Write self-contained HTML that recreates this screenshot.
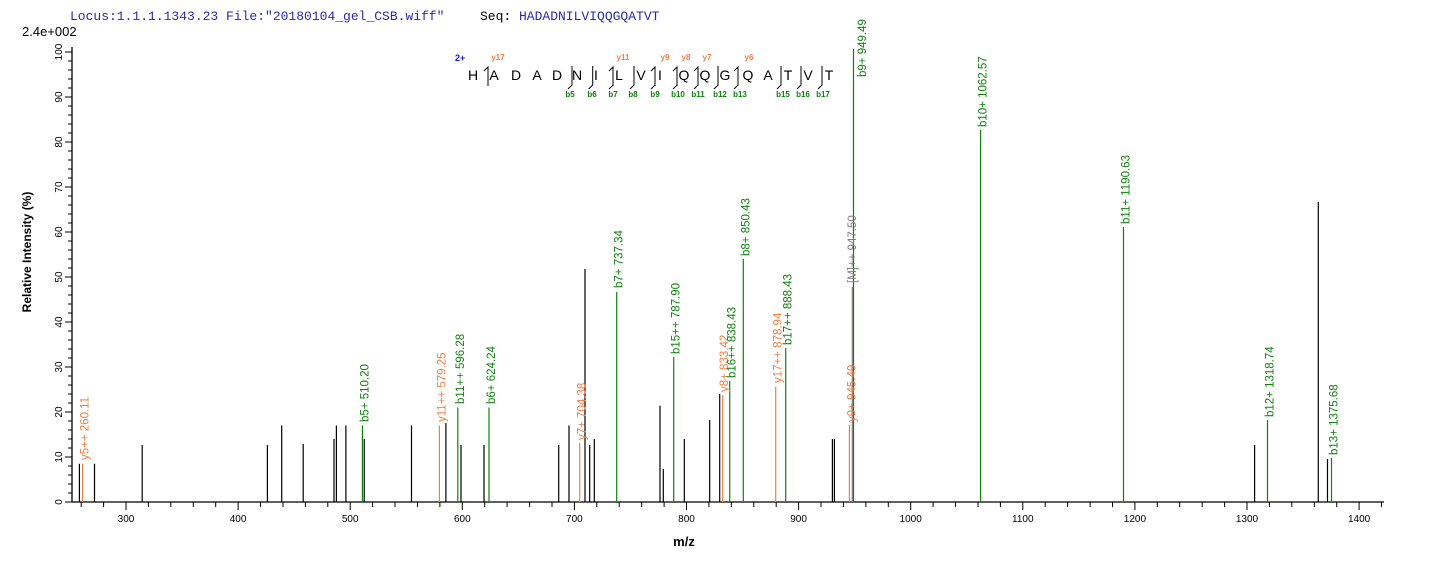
<!DOCTYPE html>
<html><head><meta charset="utf-8"><style>
html,body{margin:0;padding:0;background:#fff;}
svg{display:block;}
.lb{font-family:"Liberation Sans",Arial,sans-serif;font-size:11.5px;}
.g{fill:#11800f;} .o{fill:#f07f45;} .gr{fill:#808080;}
.tk{font-family:"Liberation Sans",Arial,sans-serif;font-size:10px;fill:#000;}
</style></head><body>
<svg width="1436" height="562" viewBox="0 0 1436 562" xmlns="http://www.w3.org/2000/svg">
<rect width="1436" height="562" fill="#fff"/>
<text x="70" y="20" font-family="Liberation Mono, monospace" font-size="13" fill="#2a2aa8">Locus:1.1.1.1343.23 File:"20180104_gel_CSB.wiff"</text>
<text x="480" y="20" font-family="Liberation Mono, monospace" font-size="13" fill="#000">Seq:</text>
<text x="519" y="20" font-family="Liberation Mono, monospace" font-size="13" fill="#2a2aa8">HADADNILVIQQGQATVT</text>
<text x="22" y="36" font-family="Liberation Sans, Arial, sans-serif" font-size="13" fill="#000">2.4e+002</text>

<g stroke="#000" stroke-width="1.3" fill="none">
<line x1="72" y1="47" x2="72" y2="502"/>
<line x1="72" y1="502" x2="1384" y2="502"/>
</g>
<g id="yt" stroke="#000" stroke-width="1">
<line x1="65" y1="502" x2="72" y2="502"/><line x1="68" y1="493" x2="72" y2="493"/><line x1="68" y1="484" x2="72" y2="484"/><line x1="68" y1="475" x2="72" y2="475"/><line x1="68" y1="466" x2="72" y2="466"/>
<line x1="65" y1="457" x2="72" y2="457"/><line x1="68" y1="448" x2="72" y2="448"/><line x1="68" y1="439" x2="72" y2="439"/><line x1="68" y1="430" x2="72" y2="430"/><line x1="68" y1="421" x2="72" y2="421"/>
<line x1="65" y1="412" x2="72" y2="412"/><line x1="68" y1="403" x2="72" y2="403"/><line x1="68" y1="394" x2="72" y2="394"/><line x1="68" y1="385" x2="72" y2="385"/><line x1="68" y1="376" x2="72" y2="376"/>
<line x1="65" y1="367" x2="72" y2="367"/><line x1="68" y1="358" x2="72" y2="358"/><line x1="68" y1="349" x2="72" y2="349"/><line x1="68" y1="340" x2="72" y2="340"/><line x1="68" y1="331" x2="72" y2="331"/>
<line x1="65" y1="322" x2="72" y2="322"/><line x1="68" y1="313" x2="72" y2="313"/><line x1="68" y1="304" x2="72" y2="304"/><line x1="68" y1="295" x2="72" y2="295"/><line x1="68" y1="286" x2="72" y2="286"/>
<line x1="65" y1="277" x2="72" y2="277"/><line x1="68" y1="268" x2="72" y2="268"/><line x1="68" y1="259" x2="72" y2="259"/><line x1="68" y1="250" x2="72" y2="250"/><line x1="68" y1="241" x2="72" y2="241"/>
<line x1="65" y1="232" x2="72" y2="232"/><line x1="68" y1="223" x2="72" y2="223"/><line x1="68" y1="214" x2="72" y2="214"/><line x1="68" y1="205" x2="72" y2="205"/><line x1="68" y1="196" x2="72" y2="196"/>
<line x1="65" y1="187" x2="72" y2="187"/><line x1="68" y1="178" x2="72" y2="178"/><line x1="68" y1="169" x2="72" y2="169"/><line x1="68" y1="160" x2="72" y2="160"/><line x1="68" y1="151" x2="72" y2="151"/>
<line x1="65" y1="142" x2="72" y2="142"/><line x1="68" y1="133" x2="72" y2="133"/><line x1="68" y1="124" x2="72" y2="124"/><line x1="68" y1="115" x2="72" y2="115"/><line x1="68" y1="106" x2="72" y2="106"/>
<line x1="65" y1="97" x2="72" y2="97"/><line x1="68" y1="88" x2="72" y2="88"/><line x1="68" y1="79" x2="72" y2="79"/><line x1="68" y1="70" x2="72" y2="70"/><line x1="68" y1="61" x2="72" y2="61"/>
<line x1="65" y1="52" x2="72" y2="52"/>
</g>
<g class="tk" text-anchor="middle">
<text transform="translate(62,502) rotate(-90)">0</text>
<text transform="translate(62,457) rotate(-90)">10</text>
<text transform="translate(62,412) rotate(-90)">20</text>
<text transform="translate(62,367) rotate(-90)">30</text>
<text transform="translate(62,322) rotate(-90)">40</text>
<text transform="translate(62,277) rotate(-90)">50</text>
<text transform="translate(62,232) rotate(-90)">60</text>
<text transform="translate(62,187) rotate(-90)">70</text>
<text transform="translate(62,142) rotate(-90)">80</text>
<text transform="translate(62,97) rotate(-90)">90</text>
<text transform="translate(62,52) rotate(-90)">100</text>
</g>
<text transform="translate(31,252) rotate(-90)" text-anchor="middle" font-family="Liberation Sans, Arial, sans-serif" font-size="12" font-weight="bold">Relative   Intensity (%)</text>

<g stroke="#000" stroke-width="1">
<line x1="81.2" y1="502" x2="81.2" y2="507"/><line x1="103.6" y1="502" x2="103.6" y2="507"/>
<line x1="126" y1="502" x2="126" y2="510"/><line x1="148.4" y1="502" x2="148.4" y2="507"/><line x1="170.8" y1="502" x2="170.8" y2="507"/><line x1="193.3" y1="502" x2="193.3" y2="507"/><line x1="215.7" y1="502" x2="215.7" y2="507"/>
<line x1="238.1" y1="502" x2="238.1" y2="510"/><line x1="260.5" y1="502" x2="260.5" y2="507"/><line x1="283" y1="502" x2="283" y2="507"/><line x1="305.4" y1="502" x2="305.4" y2="507"/><line x1="327.8" y1="502" x2="327.8" y2="507"/>
<line x1="350.2" y1="502" x2="350.2" y2="510"/><line x1="372.6" y1="502" x2="372.6" y2="507"/><line x1="395" y1="502" x2="395" y2="507"/><line x1="417.5" y1="502" x2="417.5" y2="507"/><line x1="439.9" y1="502" x2="439.9" y2="507"/>
<line x1="462.3" y1="502" x2="462.3" y2="510"/><line x1="484.7" y1="502" x2="484.7" y2="507"/><line x1="507.1" y1="502" x2="507.1" y2="507"/><line x1="529.6" y1="502" x2="529.6" y2="507"/><line x1="552" y1="502" x2="552" y2="507"/>
<line x1="574.4" y1="502" x2="574.4" y2="510"/><line x1="596.8" y1="502" x2="596.8" y2="507"/><line x1="619.2" y1="502" x2="619.2" y2="507"/><line x1="641.7" y1="502" x2="641.7" y2="507"/><line x1="664.1" y1="502" x2="664.1" y2="507"/>
<line x1="686.5" y1="502" x2="686.5" y2="510"/><line x1="708.9" y1="502" x2="708.9" y2="507"/><line x1="731.3" y1="502" x2="731.3" y2="507"/><line x1="753.8" y1="502" x2="753.8" y2="507"/><line x1="776.2" y1="502" x2="776.2" y2="507"/>
<line x1="798.6" y1="502" x2="798.6" y2="510"/><line x1="821" y1="502" x2="821" y2="507"/><line x1="843.4" y1="502" x2="843.4" y2="507"/><line x1="865.9" y1="502" x2="865.9" y2="507"/><line x1="888.3" y1="502" x2="888.3" y2="507"/>
<line x1="910.7" y1="502" x2="910.7" y2="510"/><line x1="933.1" y1="502" x2="933.1" y2="507"/><line x1="955.5" y1="502" x2="955.5" y2="507"/><line x1="978" y1="502" x2="978" y2="507"/><line x1="1000.4" y1="502" x2="1000.4" y2="507"/>
<line x1="1022.8" y1="502" x2="1022.8" y2="510"/><line x1="1045.2" y1="502" x2="1045.2" y2="507"/><line x1="1067.6" y1="502" x2="1067.6" y2="507"/><line x1="1090.1" y1="502" x2="1090.1" y2="507"/><line x1="1112.5" y1="502" x2="1112.5" y2="507"/>
<line x1="1134.9" y1="502" x2="1134.9" y2="510"/><line x1="1157.3" y1="502" x2="1157.3" y2="507"/><line x1="1179.7" y1="502" x2="1179.7" y2="507"/><line x1="1202.2" y1="502" x2="1202.2" y2="507"/><line x1="1224.6" y1="502" x2="1224.6" y2="507"/>
<line x1="1247" y1="502" x2="1247" y2="510"/><line x1="1269.4" y1="502" x2="1269.4" y2="507"/><line x1="1291.8" y1="502" x2="1291.8" y2="507"/><line x1="1314.3" y1="502" x2="1314.3" y2="507"/><line x1="1336.7" y1="502" x2="1336.7" y2="507"/>
<line x1="1359.1" y1="502" x2="1359.1" y2="510"/><line x1="1381.5" y1="502" x2="1381.5" y2="507"/>
</g>
<g class="tk" text-anchor="middle">
<text x="126" y="522">300</text><text x="238.1" y="522">400</text><text x="350.2" y="522">500</text><text x="462.3" y="522">600</text><text x="574.4" y="522">700</text><text x="686.5" y="522">800</text><text x="798.6" y="522">900</text><text x="910.7" y="522">1000</text><text x="1022.8" y="522">1100</text><text x="1134.9" y="522">1200</text><text x="1247" y="522">1300</text><text x="1359.1" y="522">1400</text>
</g>
<text x="684" y="546" text-anchor="middle" font-family="Liberation Sans, Arial, sans-serif" font-size="13" font-weight="bold">m/z</text>

<g stroke="#000" stroke-width="1.2">
<line x1="79.4" y1="502" x2="79.4" y2="463.8"/><line x1="94.5" y1="502" x2="94.5" y2="463.8"/>
<line x1="142.2" y1="502" x2="142.2" y2="444.9"/><line x1="267.4" y1="502" x2="267.4" y2="444.9"/>
<line x1="281.7" y1="502" x2="281.7" y2="425.5"/><line x1="303.2" y1="502" x2="303.2" y2="444"/>
<line x1="334" y1="502" x2="334" y2="439"/><line x1="336.4" y1="502" x2="336.4" y2="425.5"/>
<line x1="345.9" y1="502" x2="345.9" y2="425.5"/><line x1="364.2" y1="502" x2="364.2" y2="439"/>
<line x1="411.5" y1="502" x2="411.5" y2="425.5"/><line x1="445.9" y1="502" x2="445.9" y2="423"/>
<line x1="461" y1="502" x2="461" y2="444.9"/><line x1="484" y1="502" x2="484" y2="444.9"/>
<line x1="558.7" y1="502" x2="558.7" y2="444.9"/><line x1="569" y1="502" x2="569" y2="425.5"/>
<line x1="585" y1="502" x2="585" y2="269"/><line x1="589.7" y1="502" x2="589.7" y2="444.9"/>
<line x1="594.3" y1="502" x2="594.3" y2="439"/><line x1="660" y1="502" x2="660" y2="405.7"/>
<line x1="663.3" y1="502" x2="663.3" y2="469"/><line x1="684.3" y1="502" x2="684.3" y2="439"/>
<line x1="709.7" y1="502" x2="709.7" y2="420"/><line x1="719.7" y1="502" x2="719.7" y2="394"/>
<line x1="832.4" y1="502" x2="832.4" y2="439"/><line x1="834.4" y1="502" x2="834.4" y2="439"/>
<line x1="1254.6" y1="502" x2="1254.6" y2="444.9"/><line x1="1318.3" y1="502" x2="1318.3" y2="202"/>
<line x1="1327.5" y1="502" x2="1327.5" y2="459"/>
</g>
<g stroke="#11800f" stroke-width="1.2">
<line x1="362.4" y1="502" x2="362.4" y2="425.5"/><line x1="457.8" y1="502" x2="457.8" y2="407.5"/>
<line x1="489" y1="502" x2="489" y2="407.5"/><line x1="616.7" y1="502" x2="616.7" y2="292"/>
<line x1="673.7" y1="502" x2="673.7" y2="357"/><line x1="729.7" y1="502" x2="729.7" y2="381"/>
<line x1="743.3" y1="502" x2="743.3" y2="259"/><line x1="785.7" y1="502" x2="785.7" y2="348"/>
<line x1="853.5" y1="502" x2="853.5" y2="49"/><line x1="980.6" y1="502" x2="980.6" y2="130"/>
<line x1="1123.5" y1="502" x2="1123.5" y2="227"/><line x1="1267.5" y1="502" x2="1267.5" y2="420"/>
<line x1="1331.5" y1="502" x2="1331.5" y2="458"/>
</g>
<g stroke="#f07f45" stroke-width="1.2">
<line x1="82.6" y1="502" x2="82.6" y2="463.8"/><line x1="439.4" y1="502" x2="439.4" y2="425.5"/>
<line x1="579.7" y1="502" x2="579.7" y2="443"/><line x1="722.7" y1="502" x2="722.7" y2="395"/>
<line x1="775.7" y1="502" x2="775.7" y2="386.7"/><line x1="849.4" y1="502" x2="849.4" y2="425"/>
</g>
<line x1="852.3" y1="502" x2="852.3" y2="286.7" stroke="#808080" stroke-width="1.2"/>

<g class="lb">
<text class="o" transform="translate(88.6,460) rotate(-90)">y5++ 260.11</text>
<text class="g" transform="translate(368.4,422) rotate(-90)">b5+ 510.20</text>
<text class="o" transform="translate(445.4,422) rotate(-90)">y11++ 579.25</text>
<text class="g" transform="translate(463.8,404) rotate(-90)">b11++ 596.28</text>
<text class="g" transform="translate(495,404) rotate(-90)">b6+ 624.24</text>
<text class="o" transform="translate(585.7,440) rotate(-90)">y7+ 704.38</text>
<text class="g" transform="translate(622.7,288) rotate(-90)">b7+ 737.34</text>
<text class="g" transform="translate(679.7,354) rotate(-90)">b15++ 787.90</text>
<text class="o" transform="translate(728,392) rotate(-90)">y8+ 833.42</text>
<text class="g" transform="translate(735.7,378) rotate(-90)">b16++ 838.43</text>
<text class="g" transform="translate(749.3,256) rotate(-90)">b8+ 850.43</text>
<text class="o" transform="translate(781.7,383) rotate(-90)">y17++ 878.94</text>
<text class="g" transform="translate(791.7,345) rotate(-90)">b17++ 888.43</text>
<text class="o" transform="translate(855.4,422) rotate(-90)">y9+ 945.49</text>
<text class="gr" transform="translate(856,283) rotate(-90)">[M]++ 947.50</text>
<text class="g" transform="translate(866,77) rotate(-90)">b9+ 949.49</text>
<text class="g" transform="translate(986.6,127) rotate(-90)">b10+ 1062.57</text>
<text class="g" transform="translate(1129.5,224) rotate(-90)">b11+ 1190.63</text>
<text class="g" transform="translate(1273.5,417) rotate(-90)">b12+ 1318.74</text>
<text class="g" transform="translate(1337.5,455) rotate(-90)">b13+ 1375.68</text>
</g>

<text x="455" y="61" font-family="Liberation Sans, Arial, sans-serif" font-size="9" font-weight="bold" fill="#1a1acc">2+</text>
<g font-family="Liberation Sans, Arial, sans-serif" font-size="14" text-anchor="middle" fill="#000">
<text x="473" y="80">H</text><text x="494" y="80">A</text><text x="516" y="80">D</text><text x="537" y="80">A</text><text x="557" y="80">D</text><text x="577" y="80">N</text><text x="596" y="80">I</text><text x="619" y="80">L</text><text x="641" y="80">V</text><text x="660" y="80">I</text><text x="684" y="80">Q</text><text x="705" y="80">Q</text><text x="725" y="80">G</text><text x="748" y="80">Q</text><text x="768" y="80">A</text><text x="788" y="80">T</text><text x="808" y="80">V</text><text x="829" y="80">T</text>
</g>
<g stroke="#000" stroke-width="1" fill="none">
<path d="M488,86 V67 L484,71"/>
<path d="M572,66 V85 L568,89"/>
<path d="M592.7,66 V85 L588.7,89"/>
<path d="M613,86 V67 L609,71 M613,85 L609,89"/>
<path d="M634,66 V85 L630,89"/>
<path d="M655,86 V67 L651,71 M655,85 L651,89"/>
<path d="M677,86 V67 L673,71 M677,85 L673,89"/>
<path d="M698,86 V67 L694,71 M698,85 L694,89"/>
<path d="M718,66 V85 L714,89"/>
<path d="M738,86 V67 L734,71 M738,85 L734,89"/>
<path d="M781,66 V85 L777,89"/>
<path d="M801,66 V85 L797,89"/>
<path d="M822,66 V85 L818,89"/>
</g>
<g font-family="Liberation Sans, Arial, sans-serif" font-size="8" font-weight="bold" fill="#f07f45" text-anchor="middle">
<text x="498" y="60">y17</text><text x="623" y="60">y11</text><text x="665" y="60">y9</text><text x="686" y="60">y8</text><text x="707" y="60">y7</text><text x="749" y="60">y6</text>
</g>
<g font-family="Liberation Sans, Arial, sans-serif" font-size="8" font-weight="bold" fill="#11800f" text-anchor="middle">
<text x="570" y="97">b5</text><text x="592" y="97">b6</text><text x="613" y="97">b7</text><text x="633" y="97">b8</text><text x="655" y="97">b9</text><text x="678" y="97">b10</text><text x="698" y="97">b11</text><text x="720" y="97">b12</text><text x="740" y="97">b13</text><text x="783" y="97">b15</text><text x="803" y="97">b16</text><text x="823" y="97">b17</text>
</g>
</svg>
</body></html>
